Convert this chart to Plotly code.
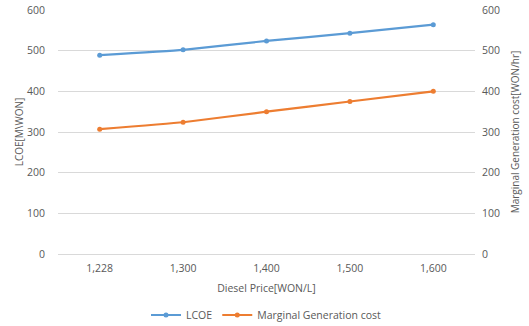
import plotly.graph_objects as go

categories = ["1,228", "1,300", "1,400", "1,500", "1,600"]
lcoe = [489, 502, 524, 543, 564]
marginal = [307, 324, 350, 375, 400]
y_ticks = [0, 100, 200, 300, 400, 500, 600]

font = dict(family="Open Sans, Lato, sans-serif", size=10, color="#595959")

fig = go.Figure()
fig.add_trace(go.Scatter(x=categories, y=lcoe, name="LCOE", mode="lines+markers",
                         line=dict(color="#5B9BD5", width=2.2, shape="spline", smoothing=0.4),
                         marker=dict(size=5, color="#5B9BD5")))
fig.add_trace(go.Scatter(x=categories, y=marginal, name="Marginal Generation cost", mode="lines+markers",
                         yaxis="y2",
                         line=dict(color="#ED7D31", width=2.2, shape="spline", smoothing=0.4),
                         marker=dict(size=5, color="#ED7D31")))

fig.update_layout(
    width=529, height=326,
    margin=dict(l=58, r=54, t=10, b=72, autoexpand=False),
    paper_bgcolor="white", plot_bgcolor="white",
    font=font,
    showlegend=True,
    legend=dict(orientation="h", x=0.5, xanchor="center",
                y=-0.25, yanchor="middle",
                font=dict(size=10.5, color="#595959"), itemwidth=30),
    xaxis=dict(type="category", range=[-0.5, 4.5], showgrid=False, showline=False,
               ticks="", zeroline=False, tickfont=dict(size=10.5), automargin=False,
               ticklabelstandoff=6,
               title=dict(text="Diesel Price[WON/L]", font=dict(size=10.5), standoff=11)),
    yaxis=dict(range=[0, 600], tickvals=y_ticks, showgrid=True, gridcolor="#D9D9D9", gridwidth=1,
               zeroline=True, zerolinecolor="#D9D9D9", zerolinewidth=1,
               showline=False, ticks="", tickfont=dict(size=10.5), automargin=False,
               ticklabelstandoff=12,
               title=dict(text="LCOE[M\\WON]", font=dict(size=10), standoff=1)),
    yaxis2=dict(range=[0, 600], tickvals=y_ticks, overlaying="y", side="right", showgrid=False,
                zeroline=False, showline=False, ticks="", tickfont=dict(size=10.5), automargin=False,
                ticklabelstandoff=6,
                title=dict(text="Marginal Generation cost[WON/hr]", font=dict(size=10), standoff=12)),
)

fig.write_html("out.html", config={"displayModeBar": False},
               post_script="document.body.style.margin='0';")
